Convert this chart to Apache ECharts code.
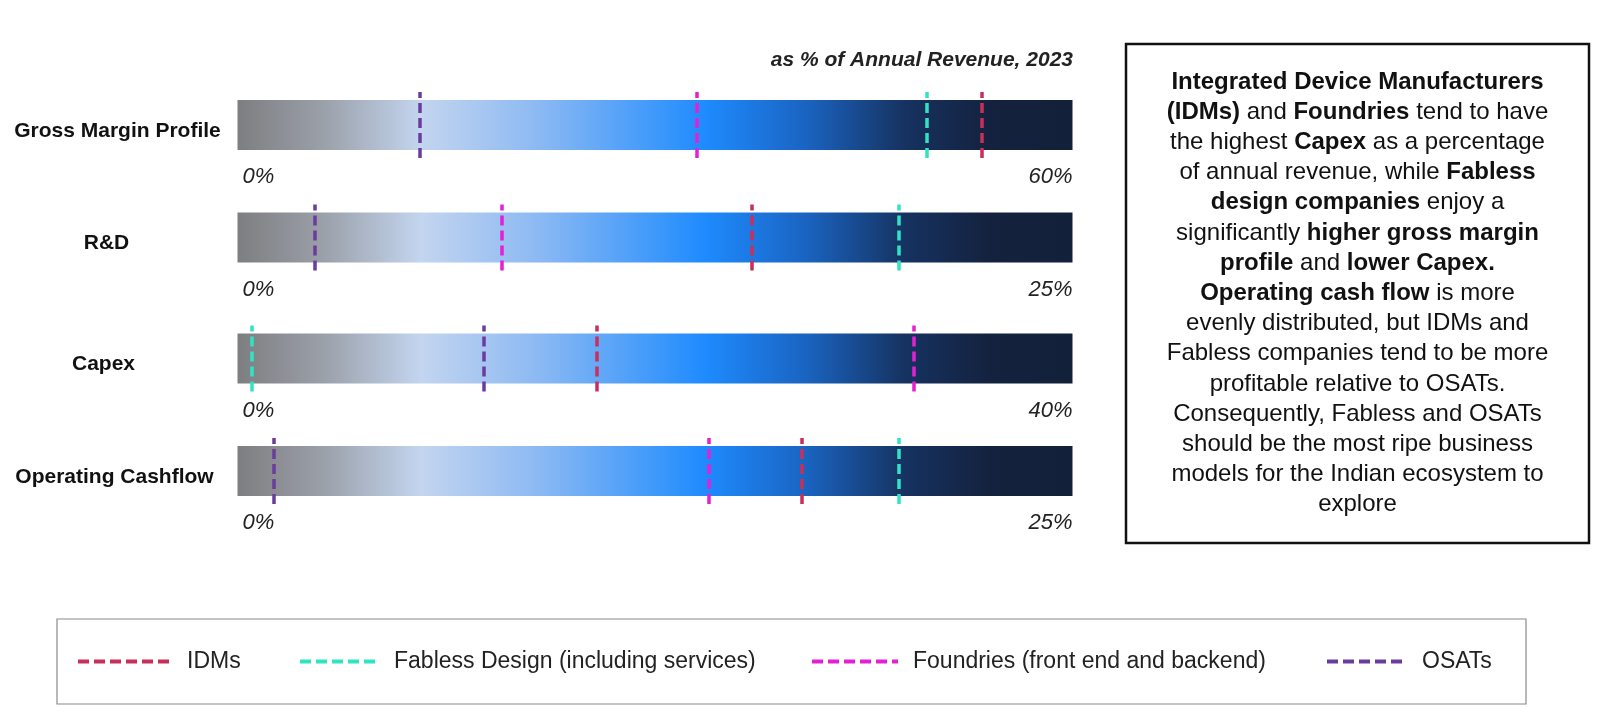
<!DOCTYPE html>
<html>
<head>
<meta charset="utf-8">
<script src="https://cdn.jsdelivr.net/npm/echarts@6/dist/echarts.min.js"></script>
<style>
html,body{margin:0;padding:0;background:#fff;}
#chart{width:1600px;height:719px;}
</style>
</head>
<body>
<div id="chart"></div>
<script>
// ---- data ----
const rows = ['Gross Margin Profile', 'R&D', 'Capex', 'Operating Cashflow'];
const axisMax = [60, 25, 40, 25];
const companies = ['IDMs', 'Fabless Design (including services)', 'Foundries (front end and backend)', 'OSATs'];
const idms = [53.5, 15.4, 17.2, 16.9];
const fabless = [49.5, 19.8, 0.7, 19.8];
const foundries = [33.0, 7.9, 32.4, 14.1];
const osats = [13.1, 2.3, 11.8, 1.1];
const subtitle = 'as % of Annual Revenue, 2023';
const boxLines = [
  '{b|Integrated Device Manufacturers}',
  '{b|(IDMs)} and {b|Foundries} tend to have',
  'the highest {b|Capex} as a percentage',
  'of annual revenue, while {b|Fabless}',
  '{b|design companies} enjoy a',
  'significantly {b|higher gross margin}',
  '{b|profile} and {b|lower Capex.}',
  '{b|Operating cash flow} is more',
  'evenly distributed, but IDMs and',
  'Fabless companies tend to be more',
  'profitable relative to OSATs.',
  'Consequently, Fabless and OSATs',
  'should be the most ripe business',
  'models for the Indian ecosystem to',
  'explore'
];

// ---- styling ----
const FONT = "'Liberation Sans', Arial, Helvetica, sans-serif";
const colors = ['#c92f5b', '#2fe3c3', '#e320d3', '#6b3c9e'];
const values = [idms, fabless, foundries, osats];
const barTops = [100.5, 213, 334, 446.5];
const labelMargins = [120, 131, 134, 123];
const barLeft = 237.5, barWidthPx = 835, barH = 50;
const dash = [10, 5];

const chart = echarts.init(document.getElementById('chart'), null, {renderer: 'canvas'});

const grids = [], xAxes = [], yAxes = [], series = [];
rows.forEach((r, i) => {
  grids.push({left: barLeft, width: barWidthPx, top: barTops[i] - 8.5, height: 66});
  xAxes.push({
    type: 'value', gridIndex: i, min: 0, max: axisMax[i], interval: axisMax[i],
    axisLine: {show: false}, axisTick: {show: false}, splitLine: {show: false},
    axisLabel: {
      formatter: '{value}%', fontStyle: 'italic', fontSize: 22, fontFamily: FONT, color: '#222',
      margin: 8, alignMinLabel: 'left', alignMaxLabel: 'right', showMinLabel: true, showMaxLabel: true,
      padding: [0, 0, 0, 5]
    }
  });
  yAxes.push({
    type: 'category', gridIndex: i, data: [r],
    axisLine: {show: false}, axisTick: {show: false}, splitLine: {show: false},
    axisLabel: {
      fontWeight: 'bold', fontSize: 21, fontFamily: FONT, color: '#111',
      align: 'center', margin: labelMargins[i], verticalAlign: 'top', lineHeight: 12
    }
  });
  series.push({
    type: 'bar', xAxisIndex: i, yAxisIndex: i, data: [axisMax[i]], barWidth: barH, silent: true,
    itemStyle: {
      color: new echarts.graphic.LinearGradient(0, 0, 1, 0, [
        {offset: 0, color: '#7d7e80'},
        {offset: 0.1, color: '#9a9fa8'},
        {offset: 0.22, color: '#c3d5ef'},
        {offset: 0.36, color: '#8cb9f3'},
        {offset: 0.56, color: '#1e8bfe'},
        {offset: 0.68, color: '#1a64c2'},
        {offset: 0.8, color: '#163260'},
        {offset: 0.9, color: '#14223f'},
        {offset: 1, color: '#132039'}
      ])
    }
  });
  companies.forEach((c, k) => {
    series.push({
      name: c, type: 'line', xAxisIndex: i, yAxisIndex: i, symbol: 'none', showSymbol: false,
      data: [[values[k][i], r]],
      lineStyle: {color: colors[k], type: dash, width: 4},
      itemStyle: {color: colors[k]},
      markLine: {
        silent: true, symbol: ['none', 'none'], label: {show: false}, animation: false,
        lineStyle: {color: colors[k], type: dash, width: 3.5},
        emphasis: {disabled: true},
        data: [{xAxis: values[k][i]}]
      }
    });
  });
});

const legendLeft = [76, 298, 810, 1325];
const legendIconW = [94, 79, 86, 80];
const legends = companies.map((c, k) => ({
  data: [c], left: legendLeft[k], top: 650, padding: 0, itemWidth: legendIconW[k], itemHeight: 14,
  selectedMode: false,
  itemStyle: {opacity: 0, borderWidth: 0},
  textStyle: {fontSize: 23, fontFamily: FONT, color: '#222', padding: [0, 0, 0, 10]},
  lineStyle: {type: [11, 5], width: 4}
}));

const graphics = [
  {type: 'rect', shape: {x: 1126, y: 44, width: 463, height: 499}, style: {fill: '#fff', stroke: '#111', lineWidth: 2.5}, z: -1},
  {type: 'rect', shape: {x: 57, y: 619, width: 1469, height: 85}, style: {fill: 'none', stroke: '#8a8a8a', lineWidth: 1.2}, z: -1}
];
boxLines.forEach((t, j) => {
  graphics.push({
    type: 'text', x: 1357.5, y: 82 + j * 30.2,
    style: {
      text: t, fill: '#111', fontSize: 24, fontFamily: FONT, fontWeight: 'normal',
      align: 'center', verticalAlign: 'middle', textAlign: 'center', textVerticalAlign: 'middle',
      rich: {b: {fontWeight: 'bold', fontSize: 24, fontFamily: FONT, fill: '#111'}}
    }
  });
});

chart.setOption({
  animation: false,
  title: {
    text: subtitle, right: 527, top: 50, padding: 0,
    textStyle: {fontSize: 21, fontWeight: 'bold', fontStyle: 'italic', fontFamily: FONT, color: '#222'}
  },
  grid: grids, xAxis: xAxes, yAxis: yAxes, series: series,
  legend: legends,
  graphic: graphics
});
</script>
</body>
</html>
